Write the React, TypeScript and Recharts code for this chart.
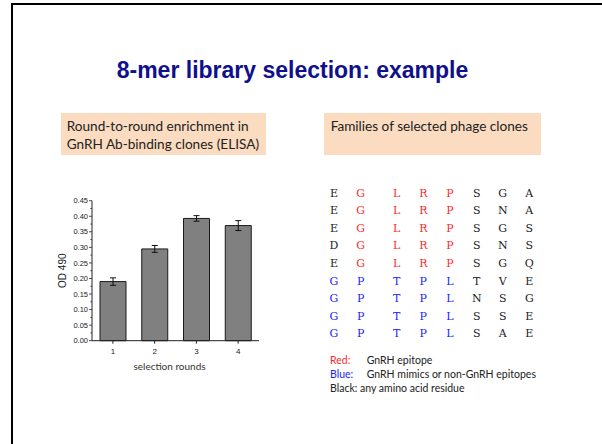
import React from 'react';
import { BarChart, Bar, XAxis, YAxis, ErrorBar, Label } from 'recharts';

// ELISA data (OD 490 per selection round)
const rounds = ['1', '2', '3', '4'];
const od490 = [0.19, 0.295, 0.393, 0.37];
const od490Err = [0.012, 0.011, 0.009, 0.016];
const yTicks = [0, 0.025, 0.05, 0.075, 0.1, 0.125, 0.15, 0.175, 0.2, 0.225, 0.25, 0.275, 0.3, 0.325, 0.35, 0.375, 0.4, 0.425, 0.45];

// selected clones, one string per clone, and the colour key of each residue
const clones = ['EGLRPSGA', 'EGLRPSNA', 'EGLRPSGS', 'DGLRPSNS', 'EGLRPSGQ', 'GPTPLTVE', 'GPTPLNSG', 'GPTPLSSE', 'GPTPLSAE'];
const cloneKeys = ['KRRRRKKK', 'KRRRRKKK', 'KRRRRKKK', 'KRRRRKKK', 'KRRRRKKK', 'BBBBBKKK', 'BBBBBKKK', 'BBBBBKKK', 'BBBBBKKK'];

const legendItems = [
  { label: 'Red:', text: 'GnRH epitope', key: 'R' },
  { label: 'Blue:', text: 'GnRH mimics or non-GnRH epitopes', key: 'B' },
];

const KEY_COLORS: Record<string, string> = { R: '#ff2a2a', B: '#2222ff', K: '#222' };

const chartData = rounds.map((r, i) => ({ round: r, od: od490[i], err: od490Err[i] }));

// column centres and row spacing of the sequence block
const COL_X = [14, 40.7, 76.7, 103.3, 130, 156.7, 182.7, 209.3];
const ROW_Y0 = 22.7;
const ROW_STEP = 17.6;

const YTick = ({ x, y, payload }: any) => {
  const major = Math.round(payload.value * 1000) % 50 === 0;
  return (
    <g>
      <line x1={x} x2={x - (major ? 3 : 1.6)} y1={y} y2={y} stroke="#222" strokeWidth={0.8} />
      {major && (
        <text x={x - 4} y={y} dy="0.35em" textAnchor="end" fontSize={7.5} fill="#222" fontFamily="Liberation Sans, Arial, sans-serif">
          {payload.value.toFixed(2)}
        </text>
      )}
    </g>
  );
};

const boxStyle: React.CSSProperties = {
  position: 'absolute',
  top: 112.7,
  height: 42.3,
  background: '#fbdcc1',
  fontFamily: 'Lato, sans-serif',
  fontSize: 13.6,
  lineHeight: '18.3px',
  color: '#222',
  paddingTop: 4,
  paddingLeft: 5.7,
  boxSizing: 'border-box',
  whiteSpace: 'nowrap',
};

export default function App() {
  return (
    <div style={{ position: 'fixed', left: 0, top: 0, width: 602, height: 444, overflow: 'hidden', background: '#fff' }}>
      {/* slide frame */}
      <div style={{ position: 'absolute', left: 11, top: 3, width: 700, height: 600, border: '2px solid #000' }} />

      <div
        style={{
          position: 'absolute',
          left: 0,
          top: 58.5,
          width: 585,
          textAlign: 'center',
          fontFamily: "'Liberation Sans', Arial, sans-serif",
          fontWeight: 'bold',
          fontSize: 23,
          lineHeight: '23px',
          color: '#10108c',
        }}
      >
        8-mer library selection: example
      </div>

      <div style={{ ...boxStyle, left: 61, width: 205 }}>
        Round-to-round enrichment in
        <br />
        GnRH Ab-binding clones (ELISA)
      </div>
      <div style={{ ...boxStyle, left: 324, width: 216.7, paddingLeft: 6.7 }}>Families of selected phage clones</div>

      <div style={{ position: 'absolute', left: 40, top: 190 }}>
        <BarChart width={230} height={190} data={chartData} margin={{ top: 10.7, right: 11, bottom: 9.3, left: 0 }}>
          <XAxis
            dataKey="round"
            height={30}
            tickSize={3}
            tickMargin={5}
            stroke="#222"
            tick={{ fontSize: 8, fill: '#222', fontFamily: 'Liberation Sans, Arial, sans-serif' }}
          >
            <Label value="selection rounds" position="insideBottom" offset={1} dx={-6} fontSize={10} fill="#333" fontFamily="Lato, sans-serif" />
          </XAxis>
          <YAxis
            width={52}
            domain={[0, 0.45]}
            ticks={yTicks}
            interval={0}
            tickSize={0}
            tickMargin={0}
            tickLine={false}
            stroke="#222"
            tick={<YTick />}
          >
            <Label value="OD 490" angle={-90} position="center" dx={-3.3} fontSize={10} fill="#222" fontFamily="Liberation Sans, Arial, sans-serif" />
          </YAxis>
          <Bar dataKey="od" barSize={26} fill="#808080" stroke="#1a1a1a" strokeWidth={1} isAnimationActive={false}>
            <ErrorBar dataKey="err" width={3} stroke="#111" strokeWidth={1} />
          </Bar>
        </BarChart>
      </div>

      <svg style={{ position: 'absolute', left: 320, top: 170 }} width={240} height={180}>
        {clones.map((seq, r) =>
          seq.split('').map((aa, c) => (
            <text
              key={`${r}-${c}`}
              x={COL_X[c]}
              y={ROW_Y0 + r * ROW_STEP}
              dy="0.36em"
              textAnchor="middle"
              fontSize={11}
              fontFamily="DejaVu Serif, serif"
              fill={KEY_COLORS[cloneKeys[r][c]]}
            >
              {aa}
            </text>
          ))
        )}
      </svg>

      <div style={{ position: 'absolute', left: 330, top: 354, fontFamily: 'Lato, sans-serif', fontSize: 10.5, lineHeight: '13.8px', color: '#222', whiteSpace: 'nowrap' }}>
        {legendItems.map((it) => (
          <div key={it.key}>
            <span style={{ display: 'inline-block', width: 36.7, color: KEY_COLORS[it.key] }}>{it.label}</span>
            {it.text}
          </div>
        ))}
        <div>Black: any amino acid residue</div>
      </div>
    </div>
  );
}
